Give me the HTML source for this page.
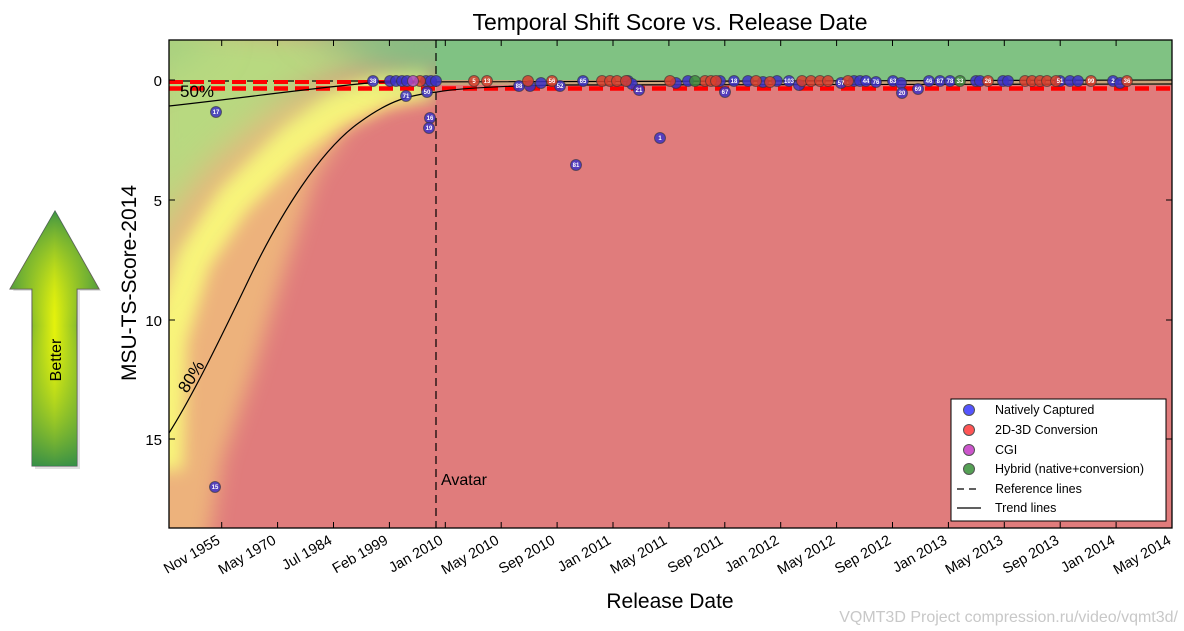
<!DOCTYPE html>
<html><head><meta charset="utf-8"><style>
body{margin:0;background:#fff;width:1184px;height:631px;overflow:hidden}
svg{display:block;font-family:"Liberation Sans",Arial,sans-serif}
</style></head><body>
<svg width="1184" height="631" viewBox="0 0 1184 631" xmlns="http://www.w3.org/2000/svg">
<defs>
<clipPath id="pc"><rect x="169" y="40" width="1003" height="488"/></clipPath>
<filter id="b8" x="-50%" y="-50%" width="200%" height="200%"><feGaussianBlur stdDeviation="8"/></filter>
<filter id="b10" x="-50%" y="-50%" width="200%" height="200%"><feGaussianBlur stdDeviation="10"/></filter>
<filter id="b18" x="-50%" y="-50%" width="200%" height="200%"><feGaussianBlur stdDeviation="18"/></filter>
<linearGradient id="arr" x1="0" x2="1" y1="0" y2="0">
<stop offset="0" stop-color="#2e8a4a"/><stop offset="0.5" stop-color="#e4f20c"/><stop offset="1" stop-color="#2e8a4a"/></linearGradient>
<linearGradient id="arrv" x1="0" x2="0" y1="0" y2="1">
<stop offset="0" stop-color="#2e8a4a" stop-opacity="0.9"/><stop offset="0.45" stop-color="#e4f20c" stop-opacity="0"/><stop offset="1" stop-color="#2e8a4a" stop-opacity="0.9"/></linearGradient>
</defs>
<text x="670" y="30" font-size="23" text-anchor="middle">Temporal Shift Score vs. Release Date</text>
<g clip-path="url(#pc)">
<rect x="169" y="40" width="1003" height="488" fill="#e07c7c"/>
<path d="M140,560 L205,560 L222,460 L250,380 L282,277 L315,177 L348,127 L392,100 L436,90 L436,84 L380,78 L300,90 L140,120Z" fill="#edb27b" filter="url(#b10)"/>
<path d="M165,470 L169,340 L193,260 L233,200 L293,140 L333,110 L380,90 L430,80" fill="none" stroke="#f8f47a" stroke-width="36" filter="url(#b8)"/>
<path d="M140,290 L172,215 L212,165 L268,118 L318,88 L370,68 L420,40 L140,10Z" fill="#b8d980" filter="url(#b18)"/>
<path d="M140,80 L220,40 L140,10Z" fill="#a4d07f" filter="url(#b18)"/>
<path d="M300,20 L1190,20 L1190,78 L430,78 L380,68Z" fill="#80c283" filter="url(#b18)"/>
<rect x="436" y="40" width="740" height="40" fill="#80c283"/>
<rect x="436" y="80" width="740" height="5" fill="#c8a47c"/>
<rect x="436" y="85" width="740" height="450" fill="#e07c7c"/>
<path d="M169,81 L436,81" stroke="#000" stroke-width="1.2" stroke-dasharray="8,5"/>
<path d="M169,82 L436,82" stroke="#f00" stroke-width="4" stroke-dasharray="14,7"/>
<path d="M169,88.5 L1172,88.5" stroke="#f00" stroke-width="4.5" stroke-dasharray="14,7"/>
<path d="M169,106 C250,97 320,87 380,82 L1172,80" fill="none" stroke="#000" stroke-width="1.2"/>
<path d="M169,433 C190,400 215,350 250,277 C280,215 320,150 360,122 C390,100 410,95 437,92 C460,88 500,86 560,85 L1172,84" fill="none" stroke="#000" stroke-width="1.2"/>
<path d="M436,40 L436,528" stroke="#000" stroke-width="1.2" stroke-dasharray="8,5"/>
<text x="180" y="97" font-size="17">50%</text>
<text x="0" y="0" font-size="17" transform="translate(187,394) rotate(-58)">80%</text>
<text x="441" y="485" font-size="16">Avatar</text>
<g stroke="#333" stroke-opacity="0.6" stroke-width="1" fill-opacity="0.85">
<g fill="#3c32c8">
<circle cx="373" cy="81" r="5.5"/><circle cx="390" cy="81" r="5.5"/><circle cx="396" cy="81" r="5.5"/><circle cx="402" cy="81" r="5.5"/><circle cx="407" cy="81" r="5.5"/>
<circle cx="426" cy="81" r="5.5"/><circle cx="431" cy="81" r="5.5"/><circle cx="436" cy="81" r="5.5"/>
<circle cx="406" cy="96" r="5.5"/><circle cx="427" cy="92" r="5.5"/><circle cx="430" cy="118" r="5.5"/><circle cx="429" cy="128" r="5.5"/>
<circle cx="216" cy="112" r="5.5"/><circle cx="215" cy="487" r="5.5"/>
<circle cx="519" cy="86" r="5.5"/><circle cx="530" cy="86" r="5.5"/><circle cx="541" cy="83" r="5.5"/><circle cx="560" cy="86" r="5.5"/>
<circle cx="583" cy="81" r="5.5"/><circle cx="628" cy="81" r="5.5"/><circle cx="632" cy="84" r="5.5"/><circle cx="639" cy="90" r="5.5"/>
<circle cx="576" cy="165" r="5.5"/><circle cx="660" cy="138" r="5.5"/>
<circle cx="676" cy="83" r="5.5"/><circle cx="688" cy="81" r="5.5"/><circle cx="720" cy="81" r="5.5"/><circle cx="725" cy="92" r="5.5"/>
<circle cx="734" cy="81" r="5.5"/><circle cx="748" cy="81" r="5.5"/><circle cx="763" cy="82" r="5.5"/><circle cx="777" cy="81" r="5.5"/>
<circle cx="789" cy="81" r="5.5"/><circle cx="799" cy="85" r="5.5"/><circle cx="841" cy="83" r="5.5"/><circle cx="854" cy="81" r="5.5"/>
<circle cx="860" cy="81" r="5.5"/><circle cx="866" cy="81" r="5.5"/><circle cx="876" cy="82" r="5.5"/><circle cx="893" cy="81" r="5.5"/>
<circle cx="901" cy="83" r="5.5"/><circle cx="902" cy="93" r="5.5"/><circle cx="918" cy="89" r="5.5"/><circle cx="929" cy="81" r="5.5"/>
<circle cx="940" cy="81" r="5.5"/><circle cx="950" cy="81" r="5.5"/><circle cx="976" cy="81" r="5.5"/><circle cx="980" cy="81" r="5.5"/>
<circle cx="1003" cy="81" r="5.5"/><circle cx="1008" cy="81" r="5.5"/><circle cx="1060" cy="81" r="5.5"/><circle cx="1070" cy="81" r="5.5"/>
<circle cx="1078" cy="81" r="5.5"/><circle cx="1113" cy="81" r="5.5"/><circle cx="1120" cy="83" r="5.5"/>
</g>
<g fill="#d8402e">
<circle cx="420" cy="81" r="5.5"/><circle cx="474" cy="81" r="5.5"/><circle cx="487" cy="81" r="5.5"/><circle cx="528" cy="81" r="5.5"/>
<circle cx="552" cy="81" r="5.5"/><circle cx="602" cy="81" r="5.5"/><circle cx="610" cy="81" r="5.5"/><circle cx="617" cy="81" r="5.5"/><circle cx="626" cy="81" r="5.5"/>
<circle cx="670" cy="81" r="5.5"/><circle cx="705" cy="81" r="5.5"/><circle cx="711" cy="81" r="5.5"/><circle cx="716" cy="81" r="5.5"/>
<circle cx="756" cy="81" r="5.5"/><circle cx="770" cy="82" r="5.5"/><circle cx="802" cy="81" r="5.5"/><circle cx="811" cy="81" r="5.5"/>
<circle cx="820" cy="81" r="5.5"/><circle cx="828" cy="81" r="5.5"/><circle cx="848" cy="81" r="5.5"/><circle cx="988" cy="81" r="5.5"/>
<circle cx="1025" cy="81" r="5.5"/><circle cx="1032" cy="81" r="5.5"/><circle cx="1040" cy="81" r="5.5"/><circle cx="1047" cy="81" r="5.5"/><circle cx="1056" cy="81" r="5.5"/>
<circle cx="1091" cy="81" r="5.5"/><circle cx="1127" cy="81" r="5.5"/>
</g>
<g fill="#3f8a3f"><circle cx="695" cy="81" r="5.5"/><circle cx="960" cy="81" r="5.5"/></g>
<g fill="#b04cc0"><circle cx="413" cy="81" r="5.5"/></g>
</g>
<g fill="#fff" font-size="6" font-weight="bold" text-anchor="middle">
<text x="373" y="83">38</text><text x="406" y="98">71</text><text x="427" y="94">50</text><text x="430" y="120">16</text><text x="429" y="130">19</text>
<text x="216" y="114">17</text><text x="215" y="489">15</text><text x="474" y="83">5</text><text x="487" y="83">13</text><text x="519" y="88">88</text>
<text x="552" y="83">56</text><text x="560" y="88">52</text><text x="583" y="83">65</text><text x="639" y="92">21</text><text x="576" y="167">81</text><text x="660" y="140">1</text>
<text x="725" y="94">67</text><text x="734" y="83">18</text><text x="789" y="83">103</text><text x="841" y="85">57</text><text x="866" y="83">44</text><text x="876" y="84">76</text>
<text x="893" y="83">63</text><text x="902" y="95">20</text><text x="918" y="91">69</text><text x="929" y="83">46</text><text x="940" y="83">87</text><text x="950" y="83">78</text>
<text x="960" y="83">33</text><text x="988" y="83">26</text><text x="1060" y="83">51</text><text x="1091" y="83">99</text><text x="1113" y="83">2</text><text x="1127" y="83">36</text>
</g>
</g>
<rect x="169" y="40" width="1003" height="488" fill="none" stroke="#000" stroke-width="1.3"/>
<g stroke="#000" stroke-width="1">
<path d="M221.7,528v-6M277.6,528v-6M333.5,528v-6M389.4,528v-6M445.3,528v-6M501.2,528v-6M557.1,528v-6M613,528v-6M668.9,528v-6M724.8,528v-6M780.7,528v-6M836.6,528v-6M892.5,528v-6M948.4,528v-6M1004.3,528v-6M1060.2,528v-6M1116.1,528v-6"/>
<path d="M221.7,40v6M277.6,40v6M333.5,40v6M389.4,40v6M445.3,40v6M501.2,40v6M557.1,40v6M613,40v6M668.9,40v6M724.8,40v6M780.7,40v6M836.6,40v6M892.5,40v6M948.4,40v6M1004.3,40v6M1060.2,40v6M1116.1,40v6"/>
<path d="M169,80h6M169,200h6M169,320h6M169,439h6M1172,80h-6M1172,200h-6M1172,320h-6M1172,439h-6"/>
</g>
<g font-size="15" text-anchor="end">
<text x="162" y="86">0</text><text x="162" y="206">5</text><text x="162" y="326">10</text><text x="162" y="445">15</text>
</g>
<g font-size="14.5" text-anchor="end">
<text transform="translate(221,543) rotate(-30)">Nov 1955</text>
<text transform="translate(277,543) rotate(-30)">May 1970</text>
<text transform="translate(333,543) rotate(-30)">Jul 1984</text>
<text transform="translate(389,543) rotate(-30)">Feb 1999</text>
<text transform="translate(444,543) rotate(-30)">Jan 2010</text>
<text transform="translate(500,543) rotate(-30)">May 2010</text>
<text transform="translate(556,543) rotate(-30)">Sep 2010</text>
<text transform="translate(612,543) rotate(-30)">Jan 2011</text>
<text transform="translate(668,543) rotate(-30)">May 2011</text>
<text transform="translate(724,543) rotate(-30)">Sep 2011</text>
<text transform="translate(780,543) rotate(-30)">Jan 2012</text>
<text transform="translate(836,543) rotate(-30)">May 2012</text>
<text transform="translate(892,543) rotate(-30)">Sep 2012</text>
<text transform="translate(948,543) rotate(-30)">Jan 2013</text>
<text transform="translate(1004,543) rotate(-30)">May 2013</text>
<text transform="translate(1060,543) rotate(-30)">Sep 2013</text>
<text transform="translate(1116,543) rotate(-30)">Jan 2014</text>
<text transform="translate(1172,543) rotate(-30)">May 2014</text>
</g>
<text x="670" y="608" font-size="21" text-anchor="middle">Release Date</text>
<text transform="translate(136,283) rotate(-90)" font-size="21" text-anchor="middle">MSU-TS-Score-2014</text>
<text x="1178" y="622" font-size="16" fill="#c8c8c8" text-anchor="end">VQMT3D Project compression.ru/video/vqmt3d/</text>
<g>
<path d="M13,291 L57,213 L101,291 L80,291 L80,469 L35,469 L35,291Z" fill="#ccc" opacity="0.6"/>
<path d="M10,289 L55,211 L99,289 L77,289 L77,466 L32,466 L32,289Z" fill="url(#arr)" stroke="#555" stroke-width="1"/>
<path d="M10,289 L55,211 L99,289 L77,289 L77,466 L32,466 L32,289Z" fill="url(#arrv)"/>
<text transform="translate(61,360) rotate(-90)" font-size="16" text-anchor="middle">Better</text>
</g>
<g>
<rect x="951" y="399" width="215" height="122" fill="#fff" stroke="#000" stroke-width="1"/>
<g stroke="#555" stroke-width="1">
<circle cx="969" cy="410" r="5.5" fill="#5555ff"/>
<circle cx="969" cy="430" r="5.5" fill="#ff5555"/>
<circle cx="969" cy="450" r="5.5" fill="#cc55cc"/>
<circle cx="969" cy="469" r="5.5" fill="#55a055"/>
</g>
<path d="M957,489h24" stroke="#000" stroke-width="1.2" stroke-dasharray="7,5"/>
<path d="M957,508h24" stroke="#000" stroke-width="1.2"/>
<g font-size="12.5">
<text x="995" y="414">Natively Captured</text>
<text x="995" y="434">2D-3D Conversion</text>
<text x="995" y="454">CGI</text>
<text x="995" y="473">Hybrid (native+conversion)</text>
<text x="995" y="493">Reference lines</text>
<text x="995" y="512">Trend lines</text>
</g>
</g>
</svg>
</body></html>
